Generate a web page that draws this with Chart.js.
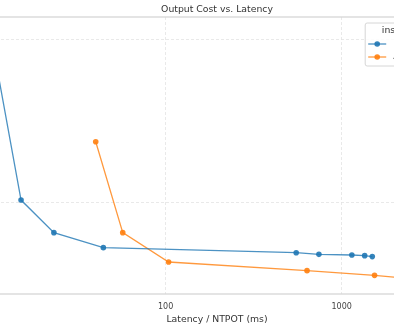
<!DOCTYPE html>
<html>
<head>
<meta charset="utf-8">
<script src="https://cdn.jsdelivr.net/npm/chart.js@4"></script>
<style>
  html, body { margin: 0; padding: 0; background: #fff; overflow: hidden; }
  #wrap { position: relative; width: 394px; height: 330px; overflow: hidden; }
  #chart { position: absolute; left: -37px; top: 0; }
</style>
</head>
<body>
<div id="wrap"><canvas id="chart" width="508" height="330"></canvas></div>
<script>
// Data (latency in ms, cost in arbitrary units)
const seriesNames = ["H100", "A100"];
const legendTitle = "instance_type";
const blueLatency = [10.1, 15.1, 23.2, 44.3, 552, 743, 1143, 1352, 1493];
const blueCost = [20.55, 10.18, 8.18, 7.26, 6.95, 6.85, 6.81, 6.77, 6.71];
const orangeLatency = [40.1, 57.1, 104, 636, 1538, 3793];
const orangeCost = [13.76, 8.18, 6.38, 5.85, 5.56, 5.18];
const xTicks = [10, 100, 1000];
const yTicks = [10, 20];

const blue = "rgba(31, 119, 180, 0.8)";
const blueDot = "rgba(31, 119, 180, 0.9)";
const orange = "rgba(255, 127, 14, 0.8)";
const orangeDot = "rgba(255, 127, 14, 0.9)";
const font = "'DejaVu Sans', sans-serif";

const toPoints = (xs, ys) => xs.map((x, i) => ({ x: x, y: ys[i] }));

// axes frame (spines)
const framePlugin = {
  id: "frame",
  afterDatasetsDraw(chart) {
    const { ctx, chartArea: a } = chart;
    ctx.save();
    ctx.strokeStyle = "#d6d6d6";
    ctx.lineWidth = 1.3;
    ctx.strokeRect(a.left, a.top, a.right - a.left, a.bottom - a.top);
    ctx.restore();
  },
};

// matplotlib-like legend inside the axes, upper right
const legendPlugin = {
  id: "boxLegend",
  afterDraw(chart) {
    const { ctx, chartArea: a } = chart;
    const w = 98, h = 43;
    const left = a.right - 5 - w;
    const top = a.top + 6;
    ctx.save();
    ctx.fillStyle = "rgba(255,255,255,0.85)";
    ctx.strokeStyle = "#d6d6d6";
    ctx.lineWidth = 1;
    ctx.beginPath();
    ctx.roundRect(left, top, w, h, 2);
    ctx.fill();
    ctx.stroke();
    ctx.fillStyle = "#333";
    ctx.font = "9.3px " + font;
    ctx.textAlign = "center";
    ctx.textBaseline = "middle";
    ctx.fillText(legendTitle, left + w / 2, top + 8);
    const cols = [[blue, blueDot], [orange, orangeDot]];
    seriesNames.forEach((name, i) => {
      const y = top + 21 + i * 13;
      ctx.strokeStyle = cols[i][0];
      ctx.lineWidth = 1.3;
      ctx.beginPath();
      ctx.moveTo(left + 3, y);
      ctx.lineTo(left + 21, y);
      ctx.stroke();
      ctx.fillStyle = cols[i][1];
      ctx.beginPath();
      ctx.arc(left + 12, y, 2.8, 0, Math.PI * 2);
      ctx.fill();
      ctx.fillStyle = "#333";
      ctx.textAlign = "left";
      ctx.fillText(name, left + 28, y);
    });
    ctx.restore();
  },
};

new Chart(document.getElementById("chart"), {
  type: "line",
  data: {
    datasets: [
      {
        label: seriesNames[0],
        data: toPoints(blueLatency, blueCost),
        borderColor: blue,
        backgroundColor: blueDot,
        borderWidth: 1.3,
        pointRadius: 2.8,
        pointBorderWidth: 0,
        pointHoverRadius: 2.8,
      },
      {
        label: seriesNames[1],
        data: toPoints(orangeLatency, orangeCost),
        borderColor: orange,
        backgroundColor: orangeDot,
        borderWidth: 1.3,
        pointRadius: 2.8,
        pointBorderWidth: 0,
        pointHoverRadius: 2.8,
      },
    ],
  },
  options: {
    responsive: false,
    animation: false,
    layout: { padding: 0 },
    plugins: {
      legend: { display: false },
      tooltip: { enabled: false },
      title: {
        display: true,
        text: "Output Cost vs. Latency",
        color: "#333",
        font: { family: font, size: 9.3, weight: "normal" },
        padding: { top: 4.4, bottom: 1.44 },
      },
    },
    scales: {
      x: {
        type: "logarithmic",
        min: 7.33,
        max: 5236,
        afterBuildTicks: (scale) => { scale.ticks = xTicks.map((v) => ({ value: v })); },
        afterFit: (scale) => { scale.height = 36; },
        border: { display: false, dash: [3, 2] },
        grid: { color: "#e3e3e3", lineWidth: 0.8, drawTicks: false },
        ticks: {
          color: "#444",
          font: { family: font, size: 8 },
          padding: 8,
          maxRotation: 0,
          autoSkip: false,
          callback: (v) => String(v),
        },
        title: {
          display: true,
          text: "Latency / NTPOT (ms)",
          color: "#333",
          font: { family: font, size: 9.3 },
          padding: { top: 0, bottom: 4.6 },
        },
      },
      y: {
        type: "linear",
        min: 4.417,
        max: 21.41,
        afterBuildTicks: (scale) => { scale.ticks = yTicks.map((v) => ({ value: v })); },
        afterFit: (scale) => { scale.width = 0; },
        border: { display: false, dash: [3, 2] },
        grid: { color: "#e3e3e3", lineWidth: 0.8, drawTicks: false },
        ticks: { display: false },
      },
    },
  },
  plugins: [framePlugin, legendPlugin],
});
</script>
</body>
</html>
